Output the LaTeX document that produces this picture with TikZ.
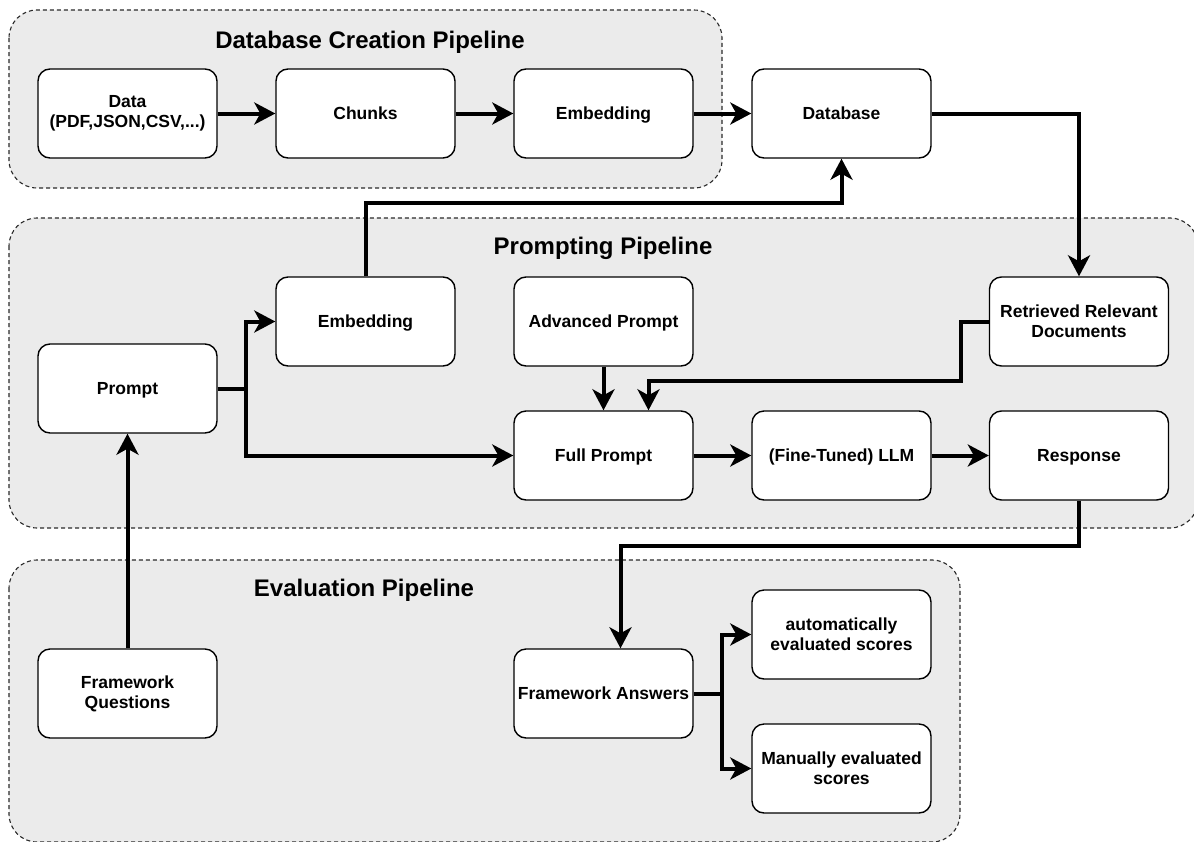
\documentclass[tikz,border=0pt]{standalone}
\usepackage{fontspec}
\setmainfont{Liberation Sans}
\usetikzlibrary{arrows.meta}
\definecolor{groupfill}{HTML}{EBEBEB}
\definecolor{groupline}{HTML}{2A2A2A}
% one-line labels centred on their capitals, ignoring descenders
\newcommand\capcentred[1]{\raisebox{0pt}[\height][0pt]{#1}}

\begin{document}
\begin{tikzpicture}[x=1pt,y=-1pt,
  box/.style={draw=black, line width=1.4pt, fill=white, rounded corners=12pt,
    minimum width=179pt, minimum height=89pt, align=center, inner sep=2pt,
    font=\bfseries\fontsize{17.5}{20}\selectfont},
  group/.style={draw=groupline, fill=groupfill, dash pattern=on 4pt off 3pt,
    line width=1.1pt, rounded corners=28pt},
  grouptitle/.style={font=\bfseries\fontsize{24}{28}\selectfont},
  link/.style={line width=4pt},
  flow/.style={link, -{Stealth[length=21pt,width=22pt,inset=6pt]}}
]
\useasboundingbox (0,0) rectangle (1194,841);
\clip (0,0) rectangle (1194,841);

% pipeline groups
\draw[group] (9,10) rectangle (722,188);
\draw[group] (9,218) rectangle (1198,528);
\draw[group] (9,560) rectangle (960,842);

\node[grouptitle] (t1) at (370,42) {Database Creation Pipeline};
\node[grouptitle] (t2) at (603,248) {Prompting Pipeline};
\node[grouptitle] (t3) at (364,590) {Evaluation Pipeline};

% boxes
\node[box] (data)   at (127.5,113.5) {Data\\(PDF,JSON,CSV,...)};
\node[box] (chunks) at (365.5,113.5) {Chunks};
\node[box] (emb1)   at (603.5,113.5) {\capcentred{Embedding}};
\node[box] (db)     at (841.5,113.5) {Database};

\node[box] (emb2)   at (365.5,321.5) {\capcentred{Embedding}};
\node[box] (adv)    at (603.5,321.5) {\capcentred{Advanced Prompt}};
\node[box] (ret)    at (1079,321.5)  {Retrieved Relevant\\Documents};
\node[box] (prompt) at (127.5,388.5) {\capcentred{Prompt}};
\node[box] (full)   at (603.5,455.5) {\capcentred{Full Prompt}};
\node[box] (llm)    at (841.5,455.5) {\capcentred{(Fine-Tuned) LLM}};
\node[box] (resp)   at (1079,455.5)  {\capcentred{Response}};

\node[box] (fq)     at (127.5,693.5) {Framework\\Questions};
\node[box] (fa)     at (603.5,693.5) {Framework Answers};
\node[box] (auto)   at (841.5,634.5) {automatically\\evaluated scores};
\node[box] (man)    at (841.5,768.5) {Manually evaluated\\scores};

% connectors
\coordinate (split) at (246,388.5);
\coordinate (split2) at (722,693.5);

\draw[flow] (data) -- (chunks);
\draw[flow] (chunks) -- (emb1);
\draw[flow] (emb1) -- (db);
\draw[flow] (emb2.north) -- ++(0,-73) -| (db.south);
\draw[flow] (db.east) -| (ret.north);
\draw[flow] (ret.west) -- ++(-28,0) -- ++(0,59) -| ([xshift=45pt]full.north);
\draw[flow] (adv) -- (full);
\draw[link] (prompt.east) -- (split);
\draw[flow] (split) |- (emb2.west);
\draw[flow] (split) |- (full.west);
\draw[flow] (full) -- (llm);
\draw[flow] (llm) -- (resp);
\draw[flow] (resp.south) -- ++(0,45) -| ([xshift=17pt]fa.north);
\draw[flow] (fq) -- (prompt);
\draw[link] (fa.east) -- (split2);
\draw[flow] (split2) |- (auto.west);
\draw[flow] (split2) |- (man.west);
\end{tikzpicture}
\end{document}
